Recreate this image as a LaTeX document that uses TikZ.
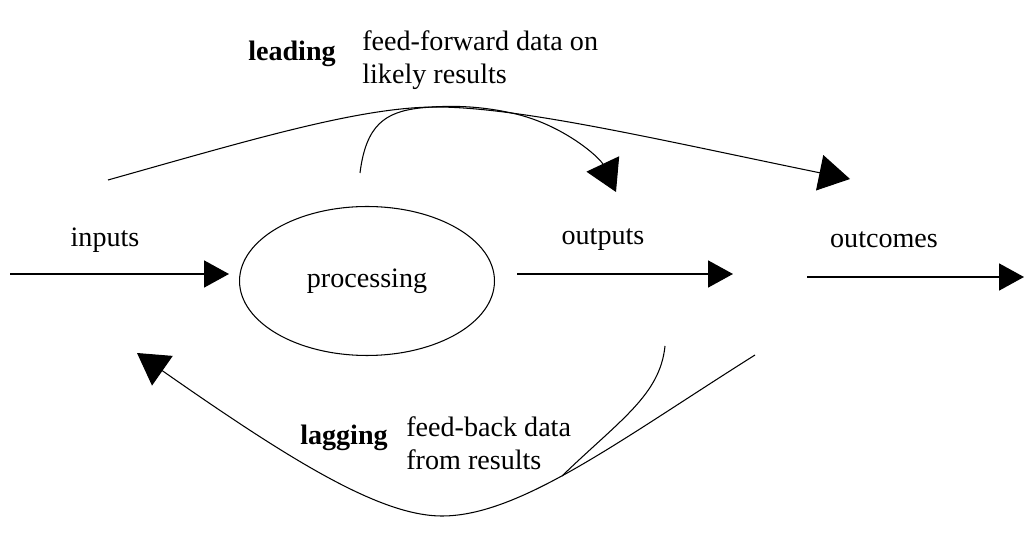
\documentclass[tikz,border=0pt]{standalone}
\usepackage{fontspec}
\setmainfont{Liberation Serif}
\usetikzlibrary{arrows.meta,shapes.geometric}
\begin{document}
\begin{tikzpicture}[x=0.02cm,y=-0.02cm,
        lbl/.style={inner sep=0pt,font=\fontsize{16}{18.8}\selectfont},
        head/.style={inner sep=0pt,font=\fontsize{16}{18.8}\selectfont\bfseries},
        flow/.style={line width=1pt,-{Triangle[length=0.5cm,width=0.54cm]}},
        loop/.style={line width=0.6pt},
        looptip/.style={-{Triangle[length=0.62cm,width=0.72cm]}}]
    \useasboundingbox (0,0) rectangle (1031,543);

    % Process
    \node[draw,ellipse,line width=0.6pt,minimum width=5.1cm,minimum height=2.98cm,
          inner sep=0pt,font=\fontsize{16}{18.8}\selectfont] (proc) at (367,281) {processing};

    % Flow labels
    \node[lbl] (inLbl) at (105,240) {inputs};
    \node[lbl] (outLbl) at (603,240) {outputs};
    \node[lbl] (outcLbl) at (884,240) {outcomes};

    % Flow arrows
    \coordinate (inStart) at (10,274);
    \coordinate (outEnd) at (733,274);
    \coordinate (outcStart) at (807,277);
    \coordinate (outcEnd) at (1024,277);
    \draw[flow,shorten >=0.2cm] (inStart) -- (inStart -| proc.west);
    \draw[flow,shorten <=0.44cm] (proc.east |- outEnd) -- (outEnd);
    \draw[flow] (outcStart) -- (outcEnd);

    % Leading (feed-forward)
    \coordinate (leadStart) at (108,180);
    \coordinate (leadPeak) at (436,107);
    \coordinate (leadEnd) at (850,179);
    \coordinate (fwdStart) at (360,173);
    \coordinate (fwdEnd) at (616,192);
    \draw[loop,looptip] (leadStart) .. controls (250,140) and (360,107) .. (leadPeak)
        .. controls (520,107) and (660,140) .. (leadEnd);
    \draw[loop,looptip] (fwdStart) .. controls (366,125) and (385,112) .. (420,108)
        .. controls (460,104) and (490,108) .. (516,114)
        .. controls (565,126) and (600,158) .. (fwdEnd);

    \node[head] (leadLbl) at (292,54) {leading};
    \node[lbl,align=left,anchor=west] (leadTxt) at (362,60) {feed-forward data on\\likely results};

    % Lagging (feed-back)
    \coordinate (lagStart) at (755,355);
    \coordinate (lagLow) at (442,516);
    \coordinate (lagEnd) at (137,353);
    \coordinate (backStart) at (665,346);
    \coordinate (backJoin) at (562,476);
    \draw[loop,looptip] (lagStart) .. controls (620,440) and (520,516) .. (lagLow)
        .. controls (380,516) and (290,460) .. (lagEnd);
    \draw[loop] (backStart) .. controls (660,395) and (620,420) .. (backJoin);

    \node[head] (lagLbl) at (344,438) {lagging};
    \node[lbl,align=left,anchor=west] (lagTxt) at (406,443) {feed-back data\\from results};
\end{tikzpicture}
\end{document}
